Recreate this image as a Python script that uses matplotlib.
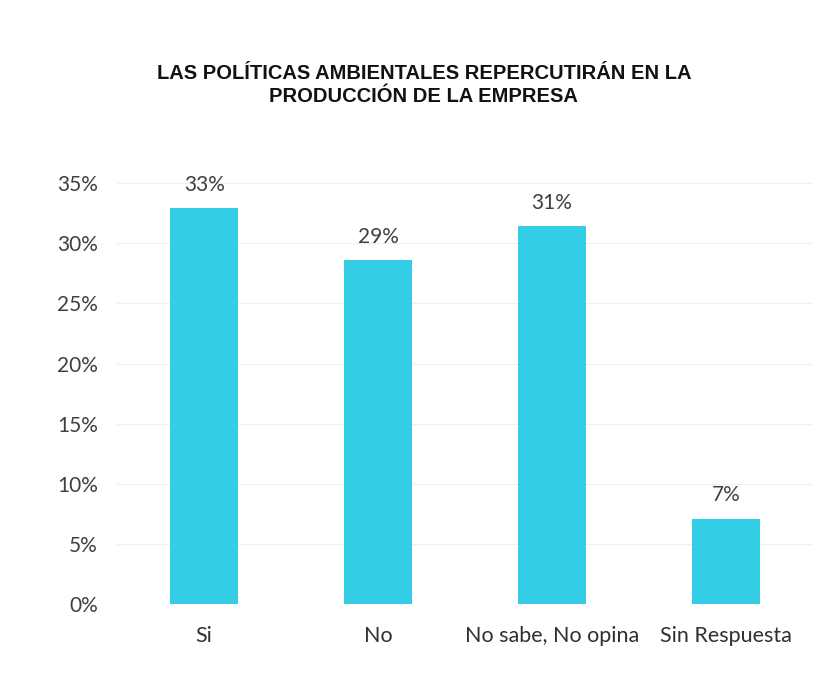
import matplotlib.pyplot as plt
from matplotlib.ticker import PercentFormatter

categorias = ['Si', 'No', 'No sabe, No opina', 'Sin Respuesta']
porcentajes = [0.329, 0.286, 0.314, 0.071]

plt.rcParams['font.family'] = ['Lato', 'DejaVu Sans']

fig = plt.figure(figsize=(8.31, 6.76), dpi=100)
ax = fig.add_axes([0.141, 0.1065, 0.837, 0.6225])

barras = ax.bar(categorias, porcentajes, width=0.39, color='#33CDE5')
for b, v in zip(barras, porcentajes):
    ax.text(b.get_x() + b.get_width() / 2, v + 0.011, f'{v:.0%}',
            ha='center', va='bottom', fontsize=15, color='#404040')

ax.set_ylim(0, 0.35)
ax.set_xlim(-0.5, 3.5)
ax.set_yticks([i * 0.05 for i in range(8)])
ax.yaxis.set_major_formatter(PercentFormatter(1.0, decimals=0))
ax.tick_params(axis='y', length=0, labelsize=15, colors='#404040', pad=14)
ax.tick_params(axis='x', length=0, labelsize=15.5, colors='#303030', pad=16)
ax.grid(axis='y', color='#f0f0f0', linewidth=0.8)
ax.set_axisbelow(True)
for s in ax.spines.values():
    s.set_visible(False)

fig.text(0.51, 0.874, 'LAS POLÍTICAS AMBIENTALES REPERCUTIRÁN EN LA\nPRODUCCIÓN DE LA EMPRESA',
         ha='center', va='center', fontsize=14.5, fontweight='bold',
         family=['Liberation Sans', 'DejaVu Sans'], linespacing=1.3, color='#111111')

fig.savefig('out.png', dpi=100)
